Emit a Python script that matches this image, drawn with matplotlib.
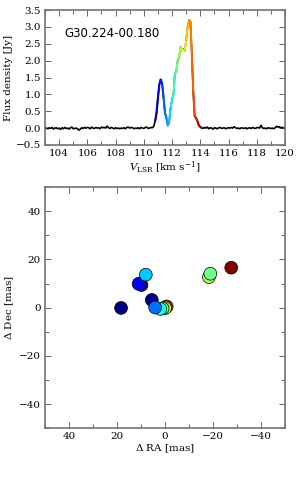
import numpy as np
import matplotlib
matplotlib.use("Agg")
import matplotlib.pyplot as plt
from matplotlib.collections import LineCollection
from matplotlib.ticker import MultipleLocator

plt.rcParams["font.family"] = "DejaVu Serif"
plt.rcParams["mathtext.fontset"] = "dejavuserif"

# spectrum: channel grid 103.0 .. 120.0 km/s, 0.1 km/s channels
v_start = 103.0
v_step = 0.1
flux = [
    # 103.0 - 110.6 (baseline)
    -0.01, 0.00, -0.02, 0.01, -0.01, 0.02, -0.03, 0.00, 0.01, -0.02,
    0.00, -0.04, 0.01, -0.02, 0.02, -0.01, 0.00, -0.03, 0.01, 0.03,
    -0.02, -0.01, 0.00, -0.02, -0.06, -0.03, 0.01, -0.01, 0.02, 0.00,
    0.02, 0.01, -0.02, 0.03, 0.00, -0.01, 0.02, 0.00, 0.01, -0.02,
    0.03, 0.01, 0.02, 0.00, 0.06, 0.01, -0.01, 0.02, 0.00, -0.02,
    0.01, -0.01, 0.00, -0.02, 0.00, -0.01, 0.01, -0.02, 0.02, 0.03,
    0.00, 0.02, 0.01, -0.02, 0.00, -0.01, 0.01, -0.02, 0.02, 0.00,
    -0.01, 0.02, 0.03, -0.01, 0.00, 0.02, 0.01,
    # 110.7 - 114.0 (maser features)
    0.05, 0.20, 0.45, 0.90, 1.30, 1.45, 1.30, 0.90, 0.45, 0.30,
    0.07, 0.20, 0.60, 0.85, 1.00, 1.60, 1.70, 2.00, 2.10, 2.40,
    2.30, 2.35, 2.30, 2.60, 3.00, 3.20, 3.15, 2.20, 1.10, 0.35,
    0.30, 0.20, 0.08, 0.03,
    # 114.1 - 120.0 (baseline)
    0.01, -0.01, 0.02, 0.00, 0.03, -0.02, 0.01, 0.00, -0.03, 0.01,
    0.00, -0.02, 0.01, 0.02, -0.01, 0.00, 0.01, -0.02, 0.00, 0.01,
    0.00, 0.02, 0.00, 0.04, 0.01, -0.01, 0.00, -0.02, 0.01, 0.00,
    -0.01, 0.01, -0.02, 0.00, 0.01, -0.01, 0.02, 0.00, -0.01, 0.01,
    0.02, 0.00, 0.08, 0.01, -0.01, 0.00, -0.02, 0.01, 0.00, -0.01,
    0.00, -0.02, 0.01, 0.05, 0.03, 0.04, 0.01, 0.02, 0.00, 0.01,
]

# maser spots
spot_ra = [18.3, 5.5, 9.8, 10.3, 11.0, 8.0, -0.7, -0.3, 0.0, 1.0, 2.0, 4.1, -18.3, -18.9, -27.6]
spot_dec = [-0.1, 3.2, 9.4, 10.0, 9.9, 13.7, 0.5, 0.2, -0.2, -0.3, -0.5, 0.1, 12.7, 14.1, 16.6]
spot_vel = [110.7, 110.75, 111.05, 111.15, 111.1, 111.8, 113.6, 113.2, 112.8, 112.2, 112.0, 111.5, 112.6, 112.35, 114.1]

vmin, vmax = 110.7, 114.1
source = "G30.224-00.180"

vel = v_start + v_step * np.arange(len(flux))
flux = np.array(flux)

fig = plt.figure(figsize=(3.0, 4.8), dpi=100)
ax1 = fig.add_axes([0.15, 0.698, 0.80, 0.281])
ax2 = fig.add_axes([0.15, 0.108, 0.80, 0.502])

norm = plt.Normalize(vmin, vmax)
cmap = plt.get_cmap("jet")

# black baseline outside the maser range, coloured inside
inside = (vel >= vmin + 0.15) & (vel <= vmax - 0.05)
ax1.plot(vel, flux, color="black", lw=1.2)
idx = np.where(inside)[0]
pts = np.column_stack([vel, flux])
segs = [pts[i:i + 2] for i in range(idx[0] - 1, idx[-1] + 1)]
seg_v = [0.5 * (vel[i] + vel[i + 1]) for i in range(idx[0] - 1, idx[-1] + 1)]
lc = LineCollection(segs, cmap=cmap, norm=norm, lw=1.5)
lc.set_array(np.array(seg_v))
ax1.add_collection(lc)

ax1.set_xlim(103, 120)
ax1.set_ylim(-0.5, 3.5)
ax1.xaxis.set_major_locator(MultipleLocator(2))
ax1.xaxis.set_minor_locator(MultipleLocator(1))
ax1.yaxis.set_major_locator(MultipleLocator(0.5))
ax1.set_xlabel(r"$V_{\rm LSR}$ [km s$^{-1}$]", fontsize=7.5, labelpad=1)
ax1.set_ylabel("Flux density [Jy]", fontsize=7.5, labelpad=2)
ax1.text(0.08, 0.8, source, transform=ax1.transAxes, fontsize=8.5,
         family="DejaVu Sans")

ax2.scatter(spot_ra, spot_dec, c=spot_vel, cmap=cmap, norm=norm, s=85,
            edgecolors="black", linewidths=0.5, zorder=3)
ax2.set_xlim(50, -50)
ax2.set_ylim(-50, 50)
ax2.xaxis.set_major_locator(MultipleLocator(20))
ax2.xaxis.set_minor_locator(MultipleLocator(10))
ax2.yaxis.set_major_locator(MultipleLocator(20))
ax2.yaxis.set_minor_locator(MultipleLocator(10))
ax2.set_xlabel(r"$\Delta$ RA [mas]", fontsize=7.5, labelpad=1)
ax2.set_ylabel(r"$\Delta$ Dec [mas]", fontsize=7.5, labelpad=2)

for ax in (ax1, ax2):
    for sp in ax.spines.values():
        sp.set_color("0.45")
        sp.set_linewidth(1.2)
    ax.tick_params(which="both", direction="in", top=True, right=True,
                   labelsize=7.5, color="0.3", pad=3)
    ax.tick_params(which="major", length=4, width=0.6)
    ax.tick_params(which="minor", length=3, width=0.6)

fig.savefig("out.png", dpi=100)
